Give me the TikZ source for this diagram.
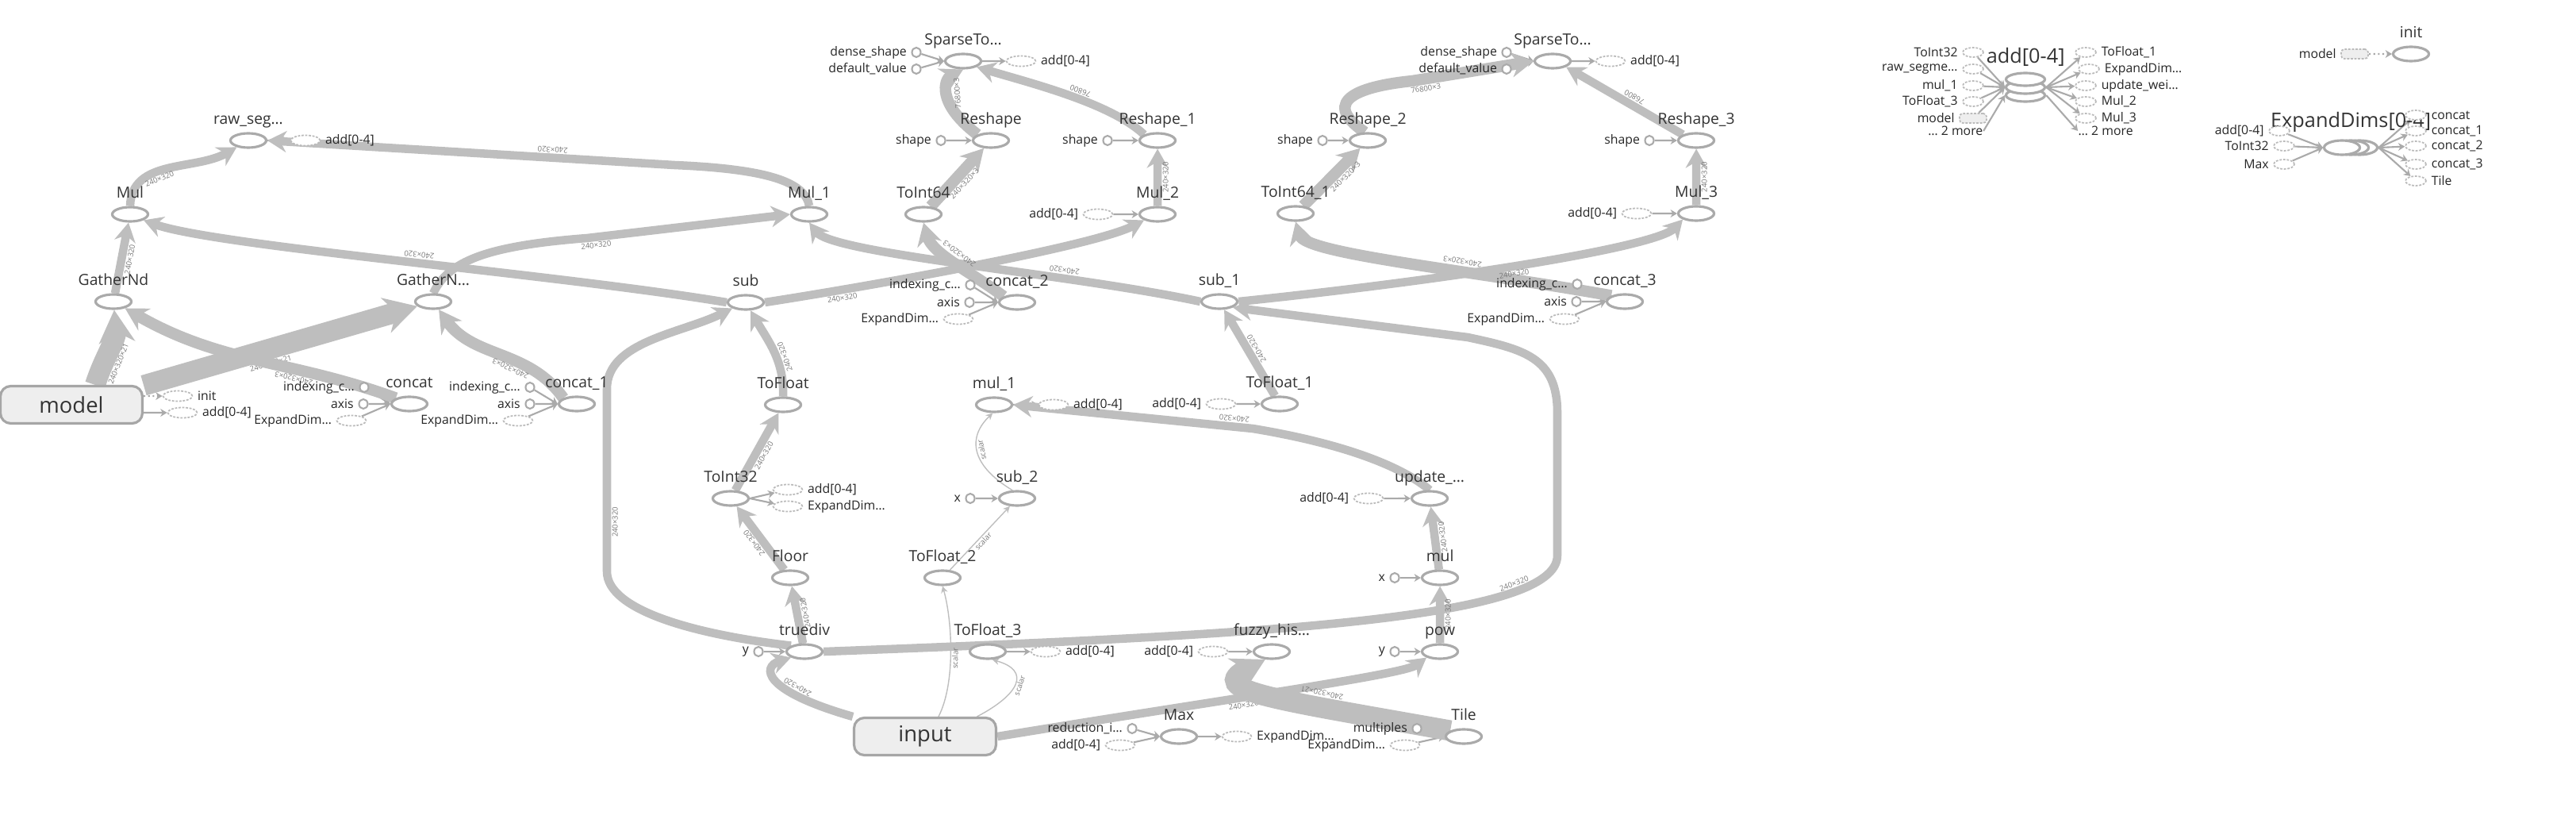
\documentclass[tikz,border=0pt]{standalone}
\usepackage{fontspec}
\setmainfont{Open Sans}
\usetikzlibrary{shapes.geometric,arrows.meta}
\pgfdeclarelayer{edges}
\pgfsetlayers{edges,main}
\definecolor{edgegray}{HTML}{BEBEBE}
\definecolor{nodegray}{HTML}{AAAAAA}
\definecolor{refgray}{HTML}{BBBBBB}
\definecolor{boxfill}{HTML}{EEEEEE}
\definecolor{boxline}{HTML}{A6A6A6}
\definecolor{textgray}{HTML}{333333}
\definecolor{lblgray}{HTML}{777777}
\tikzset{
  op/.style={ellipse, draw=nodegray, line width=0.9pt, fill=white, minimum width=4.5mm, minimum height=1.8mm},
  cst/.style={ellipse, draw=nodegray, line width=0.6pt, fill=white, minimum width=1.1mm, minimum height=1.2mm},
  ref/.style={ellipse, draw=refgray, line width=0.5pt, dash pattern=on 0.8pt off 0.5pt, fill=white, minimum width=3.7mm, minimum height=1.3mm},
  sref/.style={ref, minimum width=2.6mm, minimum height=1.2mm},
  modref/.style={rectangle, rounded corners=0.4mm, draw=refgray, fill=boxfill, line width=0.5pt, dash pattern=on 0.8pt off 0.5pt, minimum width=3.4mm, minimum height=1.2mm},
  bigbox/.style={rectangle, rounded corners=1.3mm, draw=boxline, fill=boxfill, line width=0.9pt, minimum width=17.9mm, minimum height=4.7mm, font=\fontsize{7.8}{8}\selectfont, text=textgray},
  nlbl/.style={font=\fontsize{5.5}{6}\selectfont, text=textgray, text height=1.5mm, text depth=0.4mm},
  slbl/.style={font=\fontsize{4.5}{5}\selectfont, text=black!85},
  serlbl/.style={font=\fontsize{7.2}{8}\selectfont, text=textgray},
  elbl/.style={font=\fontsize{2.7}{3}\selectfont, text=lblgray, sloped, allow upside down, inner sep=0.4pt},
  flow/.style={draw=edgegray, line width=#1, -{Stealth[length=3.5pt 1.1, width=4pt 1.2]}},
  sflow/.style={draw=edgegray, line width=0.4pt, -{Stealth[length=2.4pt, width=2.4pt]}},
  feed/.style={draw=nodegray, line width=0.6pt, -{Stealth[length=2.4pt, width=2.8pt]}}
}
\begin{document}
\begin{tikzpicture}[scale=0.1, label distance=0.5mm]
  \tikzstyle{every node}+=[inner sep=0pt]
  \useasboundingbox (0,0) rectangle (324.7,-103.7);
  \node [bigbox] (model) at (9.0,-51.0) {model};
  \node [bigbox] (input) at (116.6,-92.8) {input};
  \node [op, label={[nlbl]above:raw\_seg…}] (raw_seg) at (31.3,-17.7) {};
  \node [op, label={[nlbl]above:Mul}] (Mul) at (16.4,-27.0) {};
  \node [op, label={[nlbl]above:GatherNd}] (GatherNd) at (14.3,-38.0) {};
  \node [op, label={[nlbl]above:GatherN…}] (GatherN) at (54.6,-38.0) {};
  \node [op, label={[nlbl]above:concat}] (concat) at (51.6,-50.9) {};
  \node [op, label={[nlbl]above:concat\_1}] (concat_1) at (72.7,-50.9) {};
  \node [op, label={[nlbl]above:Mul\_1}] (Mul_1) at (102.0,-27.0) {};
  \node [op, label={[nlbl]above:ToInt64}] (ToInt64) at (116.4,-27.0) {};
  \node [op, label={[nlbl]above:Mul\_2}] (Mul_2) at (145.9,-27.0) {};
  \node [op, label={[nlbl]above:sub}] (sub) at (94.0,-38.1) {};
  \node [op, label={[nlbl]above:concat\_2}] (concat_2) at (128.2,-38.1) {};
  \node [op, label={[nlbl]above:ToFloat}] (ToFloat) at (98.7,-51.0) {};
  \node [op, label={[nlbl]above:mul\_1}] (mul_1) at (125.3,-51.0) {};
  \node [op, label={[nlbl]above:ToInt32}] (ToInt32) at (92.1,-62.8) {};
  \node [op, label={[nlbl]above:sub\_2}] (sub_2) at (128.2,-62.8) {};
  \node [op, label={[nlbl]above:Floor}] (Floor) at (99.6,-72.8) {};
  \node [op, label={[nlbl]above:ToFloat\_2}] (ToFloat_2) at (118.8,-72.8) {};
  \node [op, label={[nlbl]above:truediv}] (truediv) at (101.4,-82.1) {};
  \node [op, label={[nlbl]above:ToFloat\_3}] (ToFloat_3) at (124.5,-82.1) {};
  \node [op, label={[nlbl]above:fuzzy\_his…}] (fuzzy) at (160.3,-82.1) {};
  \node [op, label={[nlbl]above:pow}] (pow) at (181.5,-82.1) {};
  \node [op, label={[nlbl]above:mul}] (mul) at (181.5,-72.8) {};
  \node [op, label={[nlbl]above:update\_…}] (update) at (180.2,-62.8) {};
  \node [op, label={[nlbl]above:Max}] (Max) at (148.6,-92.8) {};
  \node [op, label={[nlbl]above:Tile}] (Tile) at (184.5,-92.8) {};
  \node [op, label={[nlbl]above:SparseTo…}] (SparseTo) at (121.4,-7.7) {};
  \node [op, label={[nlbl]above:Reshape}] (Reshape) at (124.9,-17.7) {};
  \node [op, label={[nlbl]above:Reshape\_1}] (Reshape_1) at (145.9,-17.7) {};
  \node [op, label={[nlbl]above:SparseTo…}] (SparseTo_1) at (195.7,-7.7) {};
  \node [op, label={[nlbl]above:Reshape\_2}] (Reshape_2) at (172.4,-17.7) {};
  \node [op, label={[nlbl]above:Reshape\_3}] (Reshape_3) at (213.8,-17.7) {};
  \node [op, label={[nlbl]above:ToInt64\_1}] (ToInt64_1) at (163.3,-26.9) {};
  \node [op, label={[nlbl]above:Mul\_3}] (Mul_3) at (213.8,-26.9) {};
  \node [op, label={[nlbl]above:sub\_1}] (sub_1) at (153.7,-38.0) {};
  \node [op, label={[nlbl]above:concat\_3}] (concat_3) at (204.8,-38.0) {};
  \node [op, label={[nlbl]above:ToFloat\_1}] (ToFloat_1) at (161.3,-50.9) {};
  \node [cst, label={[slbl]left:indexing\_c…}] (c0i) at (45.9,-48.8) {};
  \node [cst, label={[slbl]left:axis}] (c0a) at (45.8,-50.9) {};
  \node [ref, label={[slbl]left:ExpandDim…}] (c0e) at (44.3,-53.0) {};
  \node [cst, label={[slbl]left:indexing\_c…}] (c1i) at (66.8,-48.8) {};
  \node [cst, label={[slbl]left:axis}] (c1a) at (66.8,-50.9) {};
  \node [ref, label={[slbl]left:ExpandDim…}] (c1e) at (65.3,-53.0) {};
  \node [cst, label={[slbl]left:indexing\_c…}] (c2i) at (122.3,-35.9) {};
  \node [cst, label={[slbl]left:axis}] (c2a) at (122.2,-38.1) {};
  \node [ref, label={[slbl]left:ExpandDim…}] (c2e) at (120.8,-40.2) {};
  \node [cst, label={[slbl]left:indexing\_c…}] (c3i) at (198.8,-35.8) {};
  \node [cst, label={[slbl]left:axis}] (c3a) at (198.7,-38.0) {};
  \node [ref, label={[slbl]left:ExpandDim…}] (c3e) at (197.2,-40.2) {};
  \node [cst, label={[slbl]left:x}] (s2x) at (122.3,-62.8) {};
  \node [cst, label={[slbl]left:y}] (tdy) at (95.6,-82.1) {};
  \node [cst, label={[slbl]left:y}] (pwy) at (175.8,-82.1) {};
  \node [cst, label={[slbl]left:x}] (mlx) at (175.8,-72.8) {};
  \node [cst, label={[slbl]left:reduction\_i…}] (mxr) at (142.7,-91.8) {};
  \node [ref, label={[slbl]left:{add[0-4]}}] (mxa) at (141.2,-93.9) {};
  \node [cst, label={[slbl]left:multiples}] (tlm) at (178.6,-91.8) {};
  \node [ref, label={[slbl]left:ExpandDim…}] (tle) at (177.1,-93.9) {};
  \node [cst, label={[slbl]left:dense\_shape}] (spd) at (115.5,-6.6) {};
  \node [cst, label={[slbl]left:default\_value}] (spv) at (115.5,-8.7) {};
  \node [cst, label={[slbl]left:dense\_shape}] (sp1d) at (189.9,-6.6) {};
  \node [cst, label={[slbl]left:default\_value}] (sp1v) at (189.9,-8.7) {};
  \node [cst, label={[slbl]left:shape}] (rs0s) at (118.6,-17.7) {};
  \node [cst, label={[slbl]left:shape}] (rs1s) at (139.6,-17.7) {};
  \node [cst, label={[slbl]left:shape}] (rs2s) at (166.7,-17.7) {};
  \node [cst, label={[slbl]left:shape}] (rs3s) at (207.9,-17.7) {};
  \node [ref, label={[slbl]left:{add[0-4]}}] (m2a) at (138.4,-27.0) {};
  \node [ref, label={[slbl]left:{add[0-4]}}] (m3a) at (206.3,-26.9) {};
  \node [ref, label={[slbl]left:{add[0-4]}}] (tf1a) at (153.9,-50.9) {};
  \node [ref, label={[slbl]left:{add[0-4]}}] (upa) at (172.5,-62.8) {};
  \node [ref, label={[slbl]left:{add[0-4]}}] (fza) at (152.9,-82.1) {};
  \node [ref, label={[slbl]right:{add[0-4]}}] (rsa) at (38.5,-17.7) {};
  \node [ref, label={[slbl]right:init}] (initr) at (22.4,-49.9) {};
  \node [ref, label={[slbl]right:{add[0-4]}}] (addr0) at (23.0,-52.0) {};
  \node [ref, label={[slbl]right:{add[0-4]}}] (spa) at (128.7,-7.7) {};
  \node [ref, label={[slbl]right:{add[0-4]}}] (sp1a) at (203.0,-7.7) {};
  \node [ref, label={[slbl]right:{add[0-4]}}] (m1a) at (132.8,-51.0) {};
  \node [ref, label={[slbl]right:{add[0-4]}}] (ti32a) at (99.3,-61.7) {};
  \node [ref, label={[slbl]right:ExpandDim…}] (ti32e) at (99.3,-63.8) {};
  \node [ref, label={[slbl]right:{add[0-4]}}] (tf3a) at (131.8,-82.1) {};
  \node [ref, label={[slbl]right:ExpandDim…}] (mxe) at (155.9,-92.8) {};
  \node [op, minimum width=4.9mm, minimum height=1.6mm] (add3) at (255.3,-12.0) {};
  \node [op, minimum width=4.9mm, minimum height=1.6mm] (add2) at (255.3,-11.0) {};
  \node [op, minimum width=4.9mm, minimum height=1.6mm, label={[serlbl,label distance=0.6mm]above:{add[0-4]}}] (add1) at (255.3,-10.0) {};
  \node [sref, label={[slbl]left:ToInt32}] (ai0) at (248.7,-6.6) {};
  \node [sref, label={[slbl]left:raw\_segme…}] (ai1) at (248.7,-8.7) {};
  \node [sref, label={[slbl]left:mul\_1}] (ai2) at (248.7,-10.8) {};
  \node [sref, label={[slbl]left:ToFloat\_3}] (ai3) at (248.7,-12.8) {};
  \node [modref, label={[slbl]left:model}] (ai4) at (248.7,-14.9) {};
  \node [slbl, anchor=east] (ai5) at (250.0,-16.5) {… 2 more};
  \node [sref, label={[slbl]right:ToFloat\_1}] (ao0) at (262.9,-6.6) {};
  \node [sref, label={[slbl]right:ExpandDim…}] (ao1) at (263.3,-8.7) {};
  \node [sref, label={[slbl]right:update\_wei…}] (ao2) at (262.9,-10.8) {};
  \node [sref, label={[slbl]right:Mul\_2}] (ao3) at (262.9,-12.8) {};
  \node [sref, label={[slbl]right:Mul\_3}] (ao4) at (262.9,-14.9) {};
  \node [slbl, anchor=west] (ao5) at (261.9,-16.5) {… 2 more};
  \node [op, label={[nlbl]above:init}] (init) at (303.9,-6.8) {};
  \node [modref, label={[slbl]left:model}] (im) at (296.8,-6.8) {};
  \node [op] (exp3) at (297.4,-18.6) {};
  \node [op, label={[serlbl,label distance=0.8mm]above:{ExpandDims[0-4]}}] (exp2) at (296.3,-18.6) {};
  \node [op] (exp1) at (295.2,-18.6) {};
  \node [sref, label={[slbl]left:{add[0-4]}}] (ei0) at (287.3,-16.5) {};
  \node [sref, label={[slbl]left:ToInt32}] (ei1) at (287.9,-18.4) {};
  \node [sref, label={[slbl]left:Max}] (ei2) at (287.9,-20.7) {};
  \node [sref, label={[slbl]right:concat}] (eo0) at (304.5,-14.5) {};
  \node [sref, label={[slbl]right:concat\_1}] (eo1) at (304.5,-16.5) {};
  \node [sref, label={[slbl]right:concat\_2}] (eo2) at (304.5,-18.4) {};
  \node [sref, label={[slbl]right:concat\_3}] (eo3) at (304.5,-20.7) {};
  \node [sref, label={[slbl]right:Tile}] (eo4) at (304.5,-22.8) {};
  \begin{pgfonlayer}{edges}
  \draw [feed] (c0i) -- (concat.west);
  \draw [feed] (c0a) -- (concat.west);
  \draw [feed] (c0e) -- (concat.west);
  \draw [feed] (c1i) -- (concat_1.west);
  \draw [feed] (c1a) -- (concat_1.west);
  \draw [feed] (c1e) -- (concat_1.west);
  \draw [feed] (c2i) -- (concat_2.west);
  \draw [feed] (c2a) -- (concat_2.west);
  \draw [feed] (c2e) -- (concat_2.west);
  \draw [feed] (c3i) -- (concat_3.west);
  \draw [feed] (c3a) -- (concat_3.west);
  \draw [feed] (c3e) -- (concat_3.west);
  \draw [feed] (s2x) -- (sub_2);
  \draw [feed] (tdy) -- (truediv);
  \draw [feed] (pwy) -- (pow);
  \draw [feed] (mlx) -- (mul);
  \draw [feed] (mxr) -- (Max.west);
  \draw [feed] (mxa) -- (Max.west);
  \draw [feed] (tlm) -- (Tile.west);
  \draw [feed] (tle) -- (Tile.west);
  \draw [feed] (spd) -- (SparseTo.west);
  \draw [feed] (spv) -- (SparseTo.west);
  \draw [feed] (sp1d) -- (SparseTo_1.west);
  \draw [feed] (sp1v) -- (SparseTo_1.west);
  \draw [feed] (rs0s) -- (Reshape);
  \draw [feed] (rs1s) -- (Reshape_1);
  \draw [feed] (rs2s) -- (Reshape_2);
  \draw [feed] (rs3s) -- (Reshape_3);
  \draw [feed] (m2a) -- (Mul_2);
  \draw [feed] (m3a) -- (Mul_3);
  \draw [feed] (tf1a) -- (ToFloat_1);
  \draw [feed] (upa) -- (update);
  \draw [feed] (fza) -- (fuzzy);
  \draw [feed] (raw_seg) -- (rsa);
  \draw [feed, densely dotted] (model.east |- initr) -- (initr);
  \draw [feed] (model.east |- addr0) -- (addr0);
  \draw [feed] (SparseTo) -- (spa);
  \draw [feed] (SparseTo_1) -- (sp1a);
  \draw [feed] (mul_1) -- (m1a);
  \draw [feed] (ToInt32.east) -- (ti32a);
  \draw [feed] (ToInt32.east) -- (ti32e);
  \draw [feed] (ToFloat_3) -- (tf3a);
  \draw [feed] (Max) -- (mxe);
  \draw [flow=7.4pt] (model.40) to[out=72,in=-85] node[elbl,pos=0.35,below]{240×320×21} (GatherNd);
  \draw [flow=7.4pt] (model.15) -- node[elbl,pos=0.45,below]{240×320×21} (GatherN);
  \draw [flow=4.1pt] (concat.north west) to[out=160,in=-30] node[elbl,pos=0.35,above]{240×320×3} (GatherNd);
  \draw [flow=4.1pt] (concat_1.north west) to[out=125,in=-55] node[elbl,pos=0.4,above]{240×320×3} (GatherN);
  \draw [flow=3pt] (GatherNd) -- node[elbl,pos=0.5,below]{240×320} (Mul);
  \draw [flow=3pt] (Mul.north) to[out=88,in=-150] node[elbl,pos=0.4,below]{240×320} (raw_seg);
  \draw [flow=3pt] (Mul_1.north) .. controls (101.5,-23) and (97,-21.3) .. (85,-20.8) -- node[elbl,pos=0.3,below]{240×320} (raw_seg.east);
  \draw [flow=3pt] (GatherN.north) .. controls (56.5,-33) and (61,-31) .. (74,-30) -- node[elbl,pos=0.04,below]{240×320} (Mul_1.west);
  \draw [flow=3pt] (sub.west) .. controls (70,-34.5) and (27,-31) .. node[elbl,pos=0.47,below]{240×320} (Mul.south east);
  \draw [flow=3pt] (ToFloat.north) to[out=88,in=-60] node[elbl,pos=0.4,below]{240×320} (sub);
  \draw [flow=3pt] (truediv.north west) .. controls (88,-80) and (76.5,-77) .. (76.5,-72) -- node[elbl,pos=0.27,below]{240×320} (76.5,-49) .. controls (76.5,-43) and (86,-42) .. (sub.south west);
  \draw [flow=3pt] (Floor) -- node[elbl,pos=0.5,above]{240×320} (ToInt32);
  \draw [flow=3pt] (ToInt32) -- node[elbl,pos=0.5,below]{240×320} (ToFloat);
  \draw [flow=3pt] (truediv) -- node[elbl,pos=0.5,below]{240×320} (Floor);
  \draw [flow=3pt] (truediv.east) .. controls (160,-80) and (196.3,-78) .. node[elbl,pos=0.78,above]{240×320} (196.3,-70) -- (196.3,-52) .. controls (196.3,-45) and (192,-44) .. (185,-42.5) -- (sub_1.south east);
  \draw [flow=3pt] (ToFloat_1) -- node[elbl,pos=0.5,below]{240×320} (sub_1);
  \draw [flow=3pt] (sub_1.west) .. controls (135,-34.5) and (105,-32) .. node[elbl,pos=0.3,below]{240×320} (Mul_1.south);
  \draw [flow=3pt] (sub.east) .. controls (110,-36) and (138,-31) .. node[elbl,pos=0.2,below]{240×320} (Mul_2.south west);
  \draw [flow=4.1pt] (concat_2.north west) .. controls (122,-34) and (117.5,-32) .. node[elbl,pos=0.5,below]{240×320×3} (ToInt64.south);
  \draw [flow=4.1pt] (ToInt64) -- node[elbl,pos=0.5,below]{240×320×3} (Reshape);
  \draw [flow=4.1pt] (Reshape.north west) .. controls (118,-13) and (119,-10) .. node[elbl,pos=0.5,below]{76800×3} (SparseTo.south);
  \draw [flow=3pt] (Reshape_1.north west) .. controls (140,-13) and (130,-10.5) .. node[elbl,pos=0.45,below]{76800} (SparseTo.south east);
  \draw [flow=3pt] (Mul_2) -- node[elbl,pos=0.5,below]{240×320} (Reshape_1);
  \draw [flow=4.1pt] (ToInt64_1) -- node[elbl,pos=0.62,below]{240×320×3} (Reshape_2);
  \draw [flow=4.1pt] (Reshape_2.110) .. controls (166,-12.5) and (172,-10.8) .. (178,-10.2) -- node[elbl,pos=0.1,below]{76800×3} (SparseTo_1.west);
  \draw [flow=3pt] (Reshape_3.north west) -- node[elbl,pos=0.45,below]{76800} (SparseTo_1.south east);
  \draw [flow=3pt] (Mul_3) -- node[elbl,pos=0.5,below]{240×320} (Reshape_3);
  \draw [flow=4.1pt] (concat_3.north west) .. controls (185,-34) and (164.5,-32) .. node[elbl,pos=0.35,below]{240×320×3} (ToInt64_1.south);
  \draw [flow=3pt] (sub_1.east) .. controls (185,-35) and (209,-31) .. node[elbl,pos=0.45,below]{240×320} (Mul_3.south west);
  \draw [flow=3pt] (input.north west) .. controls (96,-87) and (96,-84) .. node[elbl,pos=0.3,below]{240×320} (truediv.south west);
  \draw [flow=3pt] (input.east) .. controls (155,-88) and (177,-85) .. node[elbl,pos=0.4,below]{240×320} (pow.south west);
  \draw [sflow] (input.56) .. controls (120.5,-86) and (120,-78) .. node[elbl,pos=0.45,below]{scalar} (ToFloat_2.south);
  \draw [sflow] (input.21) .. controls (128.5,-87.5) and (130,-84.5) .. node[elbl,pos=0.5,below]{scalar} (ToFloat_3.-60);
  \draw [sflow] (ToFloat_2) -- node[elbl,pos=0.5,below]{scalar} (sub_2);
  \draw [sflow] (sub_2.120) .. controls (122.2,-58.5) and (122,-55) .. node[elbl,pos=0.5,below]{scalar} (mul_1.-100);
  \draw [flow=3pt] (update.north) .. controls (177,-59) and (170,-56) .. (157.9,-54) -- node[elbl,pos=0.08,below]{240×320} (mul_1.east);
  \draw [flow=3pt] (mul) -- node[elbl,pos=0.5,below]{240×320} (update);
  \draw [flow=3pt] (pow) -- node[elbl,pos=0.5,below]{240×320} (mul);
  \draw [flow=7.4pt] (Tile.north west) .. controls (160,-88) and (152,-87) .. node[elbl,pos=0.3,below]{240×320×21} (fuzzy.-130);
  \draw [feed] (ai0) -- (add2.west);
  \draw [feed] (ai1) -- (add2.west);
  \draw [feed] (ai2) -- (add2.west);
  \draw [feed] (ai3) -- (add2.west);
  \draw [feed] (ai4) -- (add2.west);
  \draw [feed] (ai5.east) -- (add3.west);
  \draw [feed] (add2.east) -- (ao0);
  \draw [feed] (add2.east) -- (ao1);
  \draw [feed] (add2.east) -- (ao2);
  \draw [feed] (add2.east) -- (ao3);
  \draw [feed] (add2.east) -- (ao4);
  \draw [feed] (add3.east) -- (ao5.west);
  \draw [feed, densely dotted] (im) -- (init);
  \draw [feed] (ei0) -- (exp1.west);
  \draw [feed] (ei1) -- (exp1.west);
  \draw [feed] (ei2) -- (exp1.west);
  \draw [feed] (exp3.east) -- (eo0);
  \draw [feed] (exp3.east) -- (eo1);
  \draw [feed] (exp3.east) -- (eo2);
  \draw [feed] (exp3.east) -- (eo3);
  \draw [feed] (exp3.east) -- (eo4);
  \end{pgfonlayer}
\end{tikzpicture}
\end{document}
